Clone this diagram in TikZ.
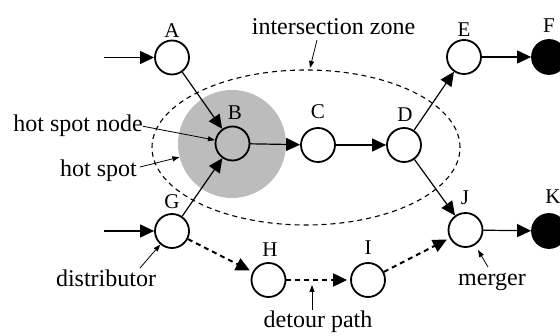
\documentclass[tikz,border=0pt]{standalone}
\usepackage{fontspec}
\setmainfont{Liberation Serif}
\usetikzlibrary{arrows.meta}
\definecolor{spotgray}{RGB}{188,188,188}
\begin{document}
\begin{tikzpicture}[x=1pt,y=-1pt,
  station/.style={circle,draw,line width=1.8pt,minimum size=34pt,inner sep=0pt},
  sink/.style={circle,draw,fill=black,line width=1.8pt,minimum size=34pt,inner sep=0pt},
  tag/.style={font=\fontsize{21}{23}\selectfont,inner sep=0pt},
  note/.style={font=\fontsize{24}{26}\selectfont,inner sep=0pt,anchor=base},
  flow/.style={line width=1.2pt,-{Triangle[length=14pt,width=13pt]}},
  detour/.style={line width=2pt,dash pattern=on 5pt off 4pt,shorten >=3pt,-{Triangle[length=14pt,width=13pt]}},
  pointer/.style={line width=0.8pt,-{Triangle[length=7pt,width=5pt]}},
  zone/.style={line width=1.1pt,dash pattern=on 5pt off 4pt},
]
\useasboundingbox (0,0) rectangle (560,336);

% intersection zone and hot spot
\draw[zone] (306,147.5) ellipse [x radius=154pt, y radius=77.5pt];
\node[circle,fill=spotgray,minimum size=108pt,inner sep=0pt] (spot) at (232,144) {};

% stations
\node[station] (A) at (172,57.5) {};
\node[station] (B) at (232.5,143.5) {};
\node[station] (C) at (318,145) {};
\node[station] (D) at (404,145) {};
\node[station] (E) at (464,57) {};
\node[sink]    (F) at (549,57) {};
\node[station] (G) at (172,231) {};
\node[station] (H) at (268.5,280) {};
\node[station] (I) at (368,280) {};
\node[station] (J) at (465.5,230) {};
\node[sink]    (K) at (549,231) {};

% station letters
\node[tag] (lA) at (172,31) {A};
\node[tag] (lB) at (235,113) {B};
\node[tag] (lC) at (318,112) {C};
\node[tag] (lD) at (405,115) {D};
\node[tag] (lE) at (464,30) {E};
\node[tag] (lF) at (549,26) {F};
\node[tag] (lG) at (172,202) {G};
\node[tag] (lH) at (270,250) {H};
\node[tag] (lI) at (368,248) {I};
\node[tag] (lJ) at (465,198) {J};
\node[tag] (lK) at (553,197) {K};

% inflows
\coordinate (inA) at (104,57.5);
\coordinate (inG) at (104,231);
\draw[flow] (inA) -- (A);
\draw[flow] (inG) -- (G);

% traffic links
\draw[flow] (A) -- (B);
\draw[flow] (G) -- (B);
\draw[flow] (B) -- (C);
\draw[flow] (C) -- (D);
\draw[flow] (D) -- (E);
\draw[flow] (E) -- (F);
\draw[flow] (D) -- (J);
\draw[flow] (J) -- (K);

% detour path
\draw[detour] (G) -- (H);
\draw[detour] (H) -- (I);
\draw[detour] (I) -- (J);

% annotations
\node[note] (zoneText) at (333.5,35) {intersection zone};
\coordinate (zoneTail) at (317,40);
\coordinate (zoneTip) at (310,68);
\draw[pointer] (zoneTail) -- (zoneTip);

\node[note] (hsn) at (78,132) {hot spot node};
\draw[pointer] (hsn.east) -- (B);

\node[note] (hs) at (98.5,177) {hot spot};
\coordinate (hsTail) at (140,167);
\draw[pointer] (hsTail) -- (spot);

\node[note] (dist) at (106,287) {distributor};
\coordinate (distTail) at (140,268);
\draw[pointer] (distTail) -- (G);

\node[note] (merg) at (492,286) {merger};
\coordinate (mergTail) at (488,267);
\coordinate (mergTip) at (478,250);
\draw[pointer] (mergTail) -- (mergTip);

\node[note] (det) at (318,328) {detour path};
\coordinate (detTail) at (312,310);
\coordinate (detTip) at (312,285);
\draw[pointer] (detTail) -- (detTip);
\end{tikzpicture}
\end{document}
